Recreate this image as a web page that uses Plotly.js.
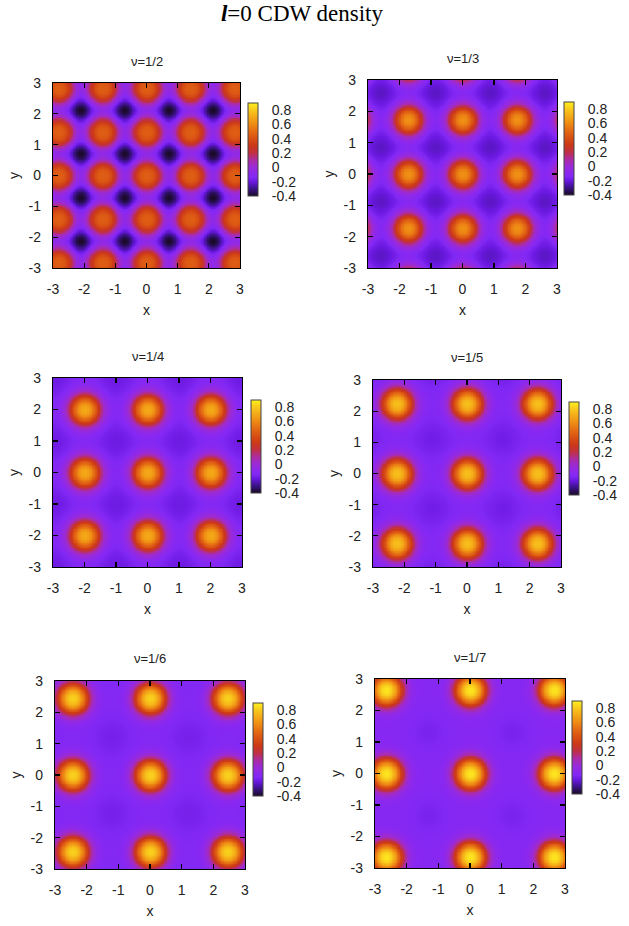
<!DOCTYPE html>
<html>
<head>
<meta charset="utf-8">
<script src="https://cdn.plot.ly/plotly-3.0.1.min.js"></script>
<style>html,body{margin:0;padding:0;background:#fff;}</style>
</head>
<body>
<div id="chart" style="width:629px;height:926px;"></div>
<script>
// ---- data ----
const panelTitles = ["ν=1/2", "ν=1/3", "ν=1/4", "ν=1/5", "ν=1/6", "ν=1/7"];
// lattice positions of density maxima (same list used for x and y: square lattice)
const peakCoords1 = [-2.83, -1.41, 0, 1.41, 2.83];
const peakCoords2 = [-3.46, -1.73, 0, 1.73, 3.46];
const peakCoords3 = [-4.0, -2.0, 0, 2.0, 4.0];
const peakCoords4 = [-4.47, -2.24, 0, 2.24, 4.47];
const peakCoords5 = [-4.90, -2.45, 0, 2.45, 4.90];
const peakCoords6 = [-5.29, -2.65, 0, 2.65, 5.29];
// positions of density minima (cell centres)
const dipCoords1 = [-2.12, -0.71, 0.71, 2.12];
const dipCoords2 = [-2.60, -0.87, 0.87, 2.60];
const dipCoords3 = [-3.0, -1.0, 1.0, 3.0];
const dipCoords4 = [-3.35, -1.12, 1.12, 3.35];
const dipCoords5 = [-3.67, -1.22, 1.22, 3.67];
const dipCoords6 = [-3.97, -1.32, 1.32, 3.97];
const peakValues = [0.45, 0.62, 0.70, 0.77, 0.82, 0.87];
const backgroundValues = [-0.12, -0.13, -0.13, -0.13, -0.13, -0.12];
const dipValues = [-0.40, -0.23, -0.19, -0.18, -0.17, -0.16];
const peakRadius = [0.50, 0.49, 0.51, 0.52, 0.52, 0.52];
const peakSharpness = [3.0, 2.4, 2.4, 2.4, 2.4, 2.4];
const dipRadius = [0.33, 0.55, 0.6, 0.6, 0.6, 0.6];
const axisTicks = [-3, -2, -1, 0, 1, 2, 3];
const axisLabels = ["-3", "-2", "-1", "0", "1", "2", "3"];
const colorbarTicks = [-0.4, -0.2, 0, 0.2, 0.4, 0.6, 0.8];
const colorbarLabels = ["-0.4", "-0.2", "0", "0.2", "0.4", "0.6", "0.8"];
const zMin = -0.4, zMax = 0.9;

// ---- layout geometry (pixels) ----
const W = 629, H = 926;
const plotBoxes = [ // [left, right, top, bottom]
  [53, 240, 83, 268], [368, 557, 80, 268],
  [53, 242, 378, 567], [373, 561, 380, 567],
  [55, 245, 681, 869], [375, 565, 679, 868]
];
const cbPos = [[248, 103], [564, 102], [251, 400], [569, 402], [253, 703], [572, 701]];
const titleY = [61, 59, 356, 357, 658, 657];

const peakSets = [peakCoords1, peakCoords2, peakCoords3, peakCoords4, peakCoords5, peakCoords6];
const dipSets = [dipCoords1, dipCoords2, dipCoords3, dipCoords4, dipCoords5, dipCoords6];

const colorscale = [
  [0.000, '#1a0a26'],
  [0.077, '#3a1286'],
  [0.154, '#6a18e0'],
  [0.200, '#8228f4'],
  [0.231, '#8a28f0'],
  [0.308, '#9a2ad8'],
  [0.385, '#ac2ca4'],
  [0.462, '#c03044'],
  [0.538, '#cc3818'],
  [0.615, '#d85014'],
  [0.692, '#e46a14'],
  [0.769, '#ee8a14'],
  [0.846, '#f4a818'],
  [0.923, '#f8c81c'],
  [1.000, '#fff020']
];

const grid = [];
for (let k = 0; k <= 120; k++) grid.push(-3 + k * 0.05);

function buildField(i) {
  const pk = peakSets[i], dp = dipSets[i];
  const bg = backgroundValues[i];
  const amp = peakValues[i] - bg, damp = dipValues[i] - bg;
  const w = peakRadius[i], p = peakSharpness[i], dw = dipRadius[i];
  const z = [];
  for (const y of grid) {
    const row = [];
    for (const x of grid) {
      let v = bg;
      for (const px of pk) for (const py of pk) {
        const r = Math.hypot(x - px, y - py);
        v += amp * Math.exp(-Math.pow(r / w, p));
      }
      for (const qx of dp) for (const qy of dp) {
        const r = Math.hypot(x - qx, y - qy);
        v += damp * Math.exp(-Math.pow(r / dw, 2));
      }
      row.push(v);
    }
    z.push(row);
  }
  return z;
}

const traces = [];
const layout = {
  width: W, height: H,
  margin: {l: 0, r: 0, t: 0, b: 0},
  paper_bgcolor: '#fff', plot_bgcolor: '#fff',
  showlegend: false,
  font: {family: 'Liberation Sans, Arial, sans-serif', color: '#222', size: 14},
  title: {
    text: '<b><i>l</i></b>=0 CDW density',
    font: {family: 'Liberation Serif, Times New Roman, serif', size: 23, color: '#000'},
    x: 302 / W, xanchor: 'center', y: 1 - 13 / H, yanchor: 'middle'
  },
  annotations: []
};

for (let i = 0; i < 6; i++) {
  const [L, R, T, B] = plotBoxes[i];
  const xa = 'xaxis' + (i === 0 ? '' : i + 1);
  const ya = 'yaxis' + (i === 0 ? '' : i + 1);
  const xs = 'x' + (i === 0 ? '' : i + 1);
  const ys = 'y' + (i === 0 ? '' : i + 1);
  traces.push({
    type: 'heatmap', x: grid, y: grid, z: buildField(i),
    xaxis: xs, yaxis: ys,
    zmin: zMin, zmax: zMax, colorscale: colorscale, zsmooth: 'best',
    hoverinfo: 'skip',
    colorbar: {
      x: cbPos[i][0] / W, xanchor: 'left', xref: 'paper',
      y: 1 - cbPos[i][1] / H, yanchor: 'top', yref: 'paper',
      len: 93, lenmode: 'pixels', thickness: 10, thicknessmode: 'pixels',
      xpad: 0, ypad: 0, outlinewidth: 1, outlinecolor: '#444',
      tickmode: 'array', tickvals: colorbarTicks, ticktext: colorbarLabels,
      ticks: 'outside', ticklen: 11, tickcolor: 'rgba(0,0,0,0)',
      tickfont: {size: 14, color: '#222'}
    }
  });
  const common = {
    range: [-3, 3], tickmode: 'array', tickvals: axisTicks, ticktext: axisLabels,
    ticks: 'inside', ticklen: 5, tickwidth: 1.2, tickcolor: '#000',
    showline: true, linecolor: '#000', linewidth: 1.2, mirror: 'allticks',
    showgrid: false, zeroline: false, fixedrange: true,
    tickfont: {size: 14, color: '#222'}, automargin: false
  };
  layout[xa] = Object.assign({}, common, {
    domain: [L / W, R / W], anchor: ys,
    ticklabelstandoff: 8,
    title: {text: 'x', font: {size: 14, color: '#222'}, standoff: 9}
  });
  layout[ya] = Object.assign({}, common, {
    domain: [1 - B / H, 1 - T / H], anchor: xs,
    ticklabelstandoff: 8,
    title: {text: 'y', font: {size: 14, color: '#222'}, standoff: 5}
  });
  layout.annotations.push({
    text: panelTitles[i], xref: 'paper', yref: 'paper',
    x: (L + R) / 2 / W, y: 1 - titleY[i] / H, xanchor: 'center', yanchor: 'middle',
    showarrow: false, font: {size: 13, color: '#222'}
  });
}

Plotly.newPlot('chart', traces, layout, {staticPlot: true, displayModeBar: false});
</script>
</body>
</html>
